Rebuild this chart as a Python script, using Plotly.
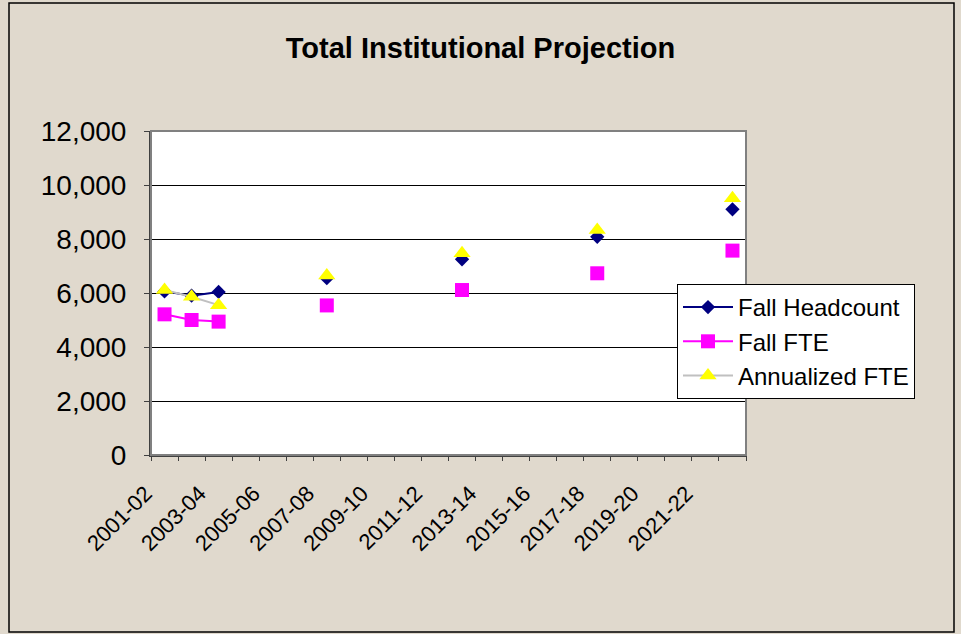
import plotly.graph_objects as go

years = ["2001-02", "2002-03", "2003-04", "2004-05", "2005-06", "2006-07", "2007-08",
         "2008-09", "2009-10", "2010-11", "2011-12", "2012-13", "2013-14", "2014-15",
         "2015-16", "2016-17", "2017-18", "2018-19", "2019-20", "2020-21", "2021-22",
         "2022-23"]
tick_labels = years[::2]

fall_headcount = [6060, 5900, 6040, None, None, None, 6550, None, None, None, None, 7250,
                  None, None, None, None, 8080, None, None, None, None, 9100]
fall_fte = [5210, 5000, 4940, None, None, None, 5540, None, None, None, None, 6110,
            None, None, None, None, 6730, None, None, None, None, 7570]
annualized_fte = [6110, 5860, 5550, None, None, None, 6650, None, None, None, None, 7470,
                  None, None, None, None, 8330, None, None, None, None, 9510]

FONT = "Liberation Sans, Arial, sans-serif"
BG = "#E0D9CD"

fig = go.Figure()
fig.add_trace(go.Scatter(
    x=years, y=fall_headcount, name="Fall Headcount", mode="lines+markers",
    line=dict(color="#000080", width=2),
    marker=dict(symbol="diamond", size=11, color="#000080"),
    connectgaps=False))
fig.add_trace(go.Scatter(
    x=years, y=fall_fte, name="Fall FTE", mode="lines+markers",
    line=dict(color="#FF00FF", width=2),
    marker=dict(symbol="square", size=14, color="#FF00FF"),
    connectgaps=False))
fig.add_trace(go.Scatter(
    x=years, y=annualized_fte, name="Annualized FTE", mode="lines+markers",
    line=dict(color="#C0C0C0", width=2),
    marker=dict(symbol="triangle-up", size=15, color="#FFFF00"),
    connectgaps=False))
# helper trace for the boundary tick axis
fig.add_trace(go.Scatter(
    x=years, y=[None] * len(years), xaxis="x2", showlegend=False,
    hoverinfo="skip", mode="lines"))

fig.update_layout(
    width=961, height=634,
    paper_bgcolor=BG, plot_bgcolor="white",
    margin=dict(l=151, r=215, t=131, b=179),
    font=dict(family=FONT, color="black"),
    title=dict(text="<b>Total Institutional Projection</b>", x=0.5, xanchor="center",
               y=1 - 48 / 634, yanchor="middle",
               font=dict(size=29, family=FONT, color="black")),
    xaxis=dict(type="category", categoryorder="array", categoryarray=years,
               range=[-0.5, len(years) - 0.5],
               tickvals=tick_labels, ticktext=tick_labels,
               tickangle=-45, ticks="", showgrid=False,
               showline=True, linecolor="#404040", linewidth=2,
               tickfont=dict(size=22, family=FONT, color="black"),
               ticklabelstandoff=15, ticklabelshift=-19),
    xaxis2=dict(type="category", categoryorder="array", categoryarray=years,
                range=[-0.5, len(years) - 0.5], overlaying="x", anchor="y",
                side="bottom", tickson="boundaries", ticks="outside", ticklen=5,
                tickcolor="#404040", tickwidth=1, dtick=1, tick0=0,
                showticklabels=False, showgrid=False, showline=False),
    yaxis=dict(range=[0, 12000], dtick=2000, tickformat=",",
               showgrid=True, gridcolor="black", gridwidth=1,
               showline=True, linecolor="#404040", linewidth=2,
               ticks="outside", ticklen=5, tickcolor="#404040",
               tickfont=dict(size=28, family=FONT, color="black"),
               ticklabelstandoff=12, zeroline=False),
    legend=dict(x=(677 - 151) / 595, y=(455 - 284) / 324, xanchor="left", yanchor="top",
                bgcolor="white", bordercolor="black", borderwidth=1,
                font=dict(size=24, family=FONT, color="black"),
                itemwidth=50, tracegroupgap=0),
    showlegend=True,
)

# plot area border (gray) and outer chart border (black)
fig.add_shape(type="rect", xref="paper", yref="paper", x0=0, y0=0, x1=1, y1=1,
              line=dict(color="#808080", width=2), layer="above")
fig.add_shape(type="rect", xref="paper", yref="paper",
              x0=(9 - 151) / 595, x1=(954 - 151) / 595,
              y0=(455 - 632) / 324, y1=(455 - 3) / 324,
              line=dict(color="black", width=1.5), layer="above")

fig.write_html("out.html", config={"displayModeBar": False},
               post_script="document.body.style.margin='0';document.body.style.overflow='hidden';")
